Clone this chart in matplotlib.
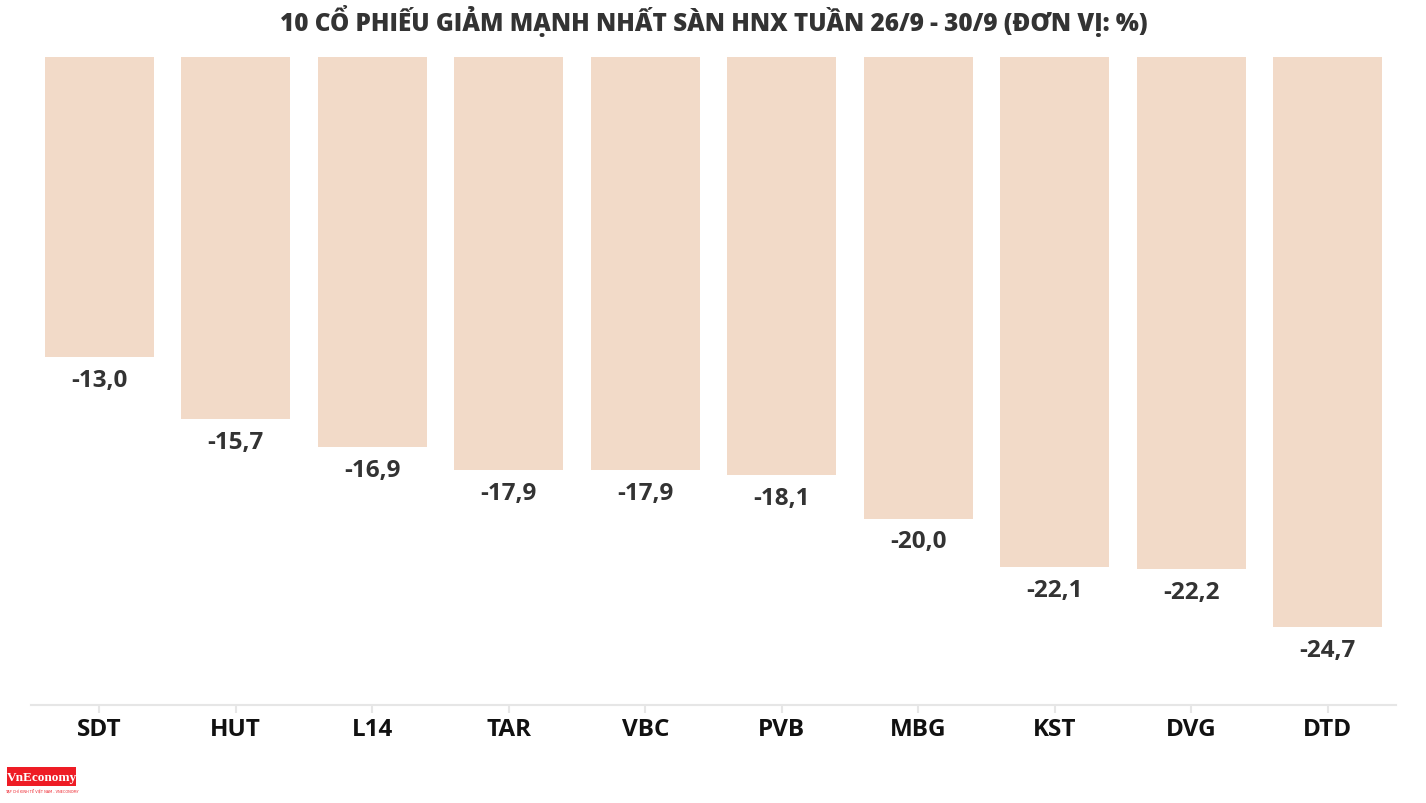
import matplotlib
matplotlib.use("Agg")
import matplotlib.pyplot as plt
from matplotlib.patches import Rectangle

categories = ["SDT", "HUT", "L14", "TAR", "VBC", "PVB", "MBG", "KST", "DVG", "DTD"]
values = [-13.0, -15.7, -16.9, -17.9, -17.9, -18.1, -20.0, -22.1, -22.2, -24.7]
title = "10 CỔ PHIẾU GIẢM MẠNH NHẤT SÀN HNX TUẦN 26/9 - 30/9 (ĐƠN VỊ: %)"

W, H = 1426, 804
fig = plt.figure(figsize=(W / 100, H / 100), dpi=100)
ax = fig.add_axes([31 / W, 1 - 706 / H, (1396 - 31) / W, (706 - 58) / H])

x = list(range(len(categories)))
ax.bar(x, values, width=0.795, color="#F2DAC8")
ax.set_xlim(-0.5, len(categories) - 0.5)
ax.set_ylim(-28.08, 0)

for xi, v in zip(x, values):
    lab = f"{v:.1f}".replace(".", ",")
    ax.annotate(lab, (xi, v), xytext=(0, -16.5), textcoords="offset points",
                ha="center", va="center", fontsize=17.5, fontweight="bold",
                color="#333333", family="Open Sans")

for s in ["top", "right", "left"]:
    ax.spines[s].set_visible(False)
ax.spines["bottom"].set_color("#e6e6e6")
ax.spines["bottom"].set_linewidth(1.5)
ax.set_yticks([])
ax.set_xticks(x)
ax.set_xticklabels(categories, fontsize=17.5, fontweight="bold", family="Open Sans", color="#111111")
ax.tick_params(axis="x", length=6, color="#e6e6e6", width=1.5, pad=3)

fig.text(714 / W, 1 - 21 / H, title, ha="center", va="center", fontsize=17.5,
         fontweight="heavy", color="#333333", family="Open Sans")

# logo
fig.patches.append(Rectangle((7 / W, 1 - 787 / H), 69 / W, 19 / H, transform=fig.transFigure,
                             facecolor="#ee1c25", edgecolor="none"))
fig.text(41.5 / W, 1 - 778.5 / H, "VnEconomy", ha="center", va="center", fontsize=9.5,
         color="white", family="Liberation Serif", fontweight="bold")
fig.text(41.5 / W, 1 - 791 / H, "TẠP CHÍ KINH TẾ VIỆT NAM - VNECONOMY", ha="center", va="center",
         fontsize=2.5, color="#ee1c25", family="DejaVu Sans")

fig.savefig("out.png", dpi=100, facecolor="white")
